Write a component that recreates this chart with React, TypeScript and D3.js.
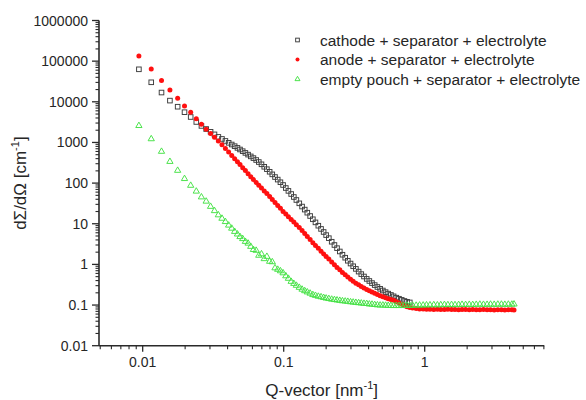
import React from "react";
import * as d3 from "d3";

const qValues = [
  0.0094, 0.0115, 0.0136, 0.0156, 0.0177, 0.0198, 0.0219, 0.024, 0.0261, 0.0282,
  0.0303, 0.0323, 0.0344, 0.0365, 0.0386, 0.0407, 0.0428, 0.0449, 0.047, 0.049,
  0.0512, 0.0535, 0.0559, 0.0584, 0.061, 0.0638, 0.0666, 0.0696, 0.0728, 0.076,
  0.0795, 0.083, 0.0868, 0.0907, 0.0948, 0.099, 0.1035, 0.108, 0.113, 0.118,
  0.123, 0.129, 0.135, 0.141, 0.147, 0.154, 0.161, 0.168, 0.176, 0.184,
  0.192, 0.2, 0.209, 0.219, 0.229, 0.239, 0.25, 0.261, 0.273, 0.285,
  0.298, 0.311, 0.325, 0.34, 0.355, 0.371, 0.388, 0.405, 0.423, 0.442,
  0.462, 0.483, 0.505, 0.528, 0.551, 0.576, 0.602, 0.629, 0.657, 0.687,
  0.718, 0.75, 0.784, 0.82, 0.87, 0.92, 0.975, 1.03, 1.09, 1.16,
  1.23, 1.3, 1.38, 1.46, 1.55, 1.64, 1.74, 1.84, 1.95, 2.07,
  2.19, 2.32, 2.46, 2.61, 2.77, 2.93, 3.11, 3.3, 3.5, 3.7,
  3.92, 4.15, 4.3,
];

const cathodeValues = [
  63000, 30200, 16900, 10700, 7570, 5550, 4230, 3190, 2550, 2140,
  1830, 1580, 1370, 1220, 1090, 980, 890, 810, 735, 671,
  610, 553, 502, 454, 412, 370, 330, 290, 252, 220,
  190, 164, 141, 122, 105, 89.8, 75.7, 64.3, 53.9, 45.5,
  38.4, 31.8, 26.5, 22.3, 18.7, 15.5, 12.9, 10.8, 8.95, 7.46,
  6.27, 5.26, 4.42, 3.61, 3.0, 2.51, 2.08, 1.73, 1.46, 1.23,
  1.05, 0.9, 0.775, 0.665, 0.577, 0.504, 0.44, 0.391, 0.347, 0.31,
  0.278, 0.251, 0.228, 0.208, 0.191, 0.177, 0.164, 0.152, 0.143, 0.134,
  0.126, 0.12, 0.116,
];

const anodeValues = [
  134000, 64100, 33400, 19500, 12200, 7880, 5520, 3840, 2810, 2100,
  1650, 1340, 1090, 881, 710, 579, 478, 398, 334, 285,
  240, 203, 170, 143, 122, 104, 88.7, 75.7, 64.3, 55.5,
  46.6, 39.5, 33.1, 28.3, 23.9, 20.1, 17.3, 14.9, 12.7, 11.0,
  9.48, 8.04, 6.79, 5.75, 4.85, 4.07, 3.4, 2.9, 2.48, 2.1,
  1.81, 1.56, 1.35, 1.15, 0.984, 0.844, 0.736, 0.635, 0.555, 0.489,
  0.432, 0.384, 0.346, 0.314, 0.287, 0.264, 0.242, 0.225, 0.209, 0.194,
  0.182, 0.169, 0.159, 0.151, 0.142, 0.136, 0.131, 0.121, 0.112, 0.104,
  0.0957, 0.0906, 0.0871, 0.0846, 0.0822, 0.0804, 0.08, 0.079, 0.079, 0.078,
  0.079, 0.078, 0.078, 0.079, 0.078, 0.078, 0.077, 0.078, 0.078, 0.077,
  0.078, 0.077, 0.077, 0.078, 0.077, 0.077, 0.076, 0.077, 0.077, 0.076,
  0.077, 0.077, 0.076,
];

const pouchValues = [
  2580, 1220, 599, 338, 204, 128, 87.3, 62.8, 45.3, 35.6,
  26.5, 20.8, 16.4, 13.5, 11.2, 9.16, 7.69, 6.41, 5.53, 4.78,
  4.27, 3.64, 3.3, 2.75, 2.3, 2.2, 1.66, 1.8, 1.37, 1.56,
  1.18, 1.15, 0.815, 0.75, 0.689, 0.614, 0.519, 0.45, 0.379, 0.337,
  0.303, 0.27, 0.243, 0.223, 0.208, 0.194, 0.179, 0.171, 0.163, 0.158,
  0.152, 0.147, 0.143, 0.138, 0.135, 0.132, 0.129, 0.126, 0.124, 0.122,
  0.119, 0.117, 0.115, 0.113, 0.111, 0.109, 0.108, 0.105, 0.104, 0.102,
  0.1, 0.099, 0.099, 0.098, 0.097, 0.097, 0.096, 0.097, 0.096, 0.097,
  0.097, 0.098, 0.097, 0.098, 0.098, 0.099, 0.099, 0.1, 0.1, 0.101,
  0.1, 0.101, 0.102, 0.101, 0.102, 0.101, 0.102, 0.103, 0.102, 0.103,
  0.102, 0.103, 0.104, 0.103, 0.103, 0.104, 0.103, 0.104, 0.104, 0.103,
  0.104, 0.104, 0.105,
];

const seriesNames = [
  "cathode + separator + electrolyte",
  "anode + separator + electrolyte",
  "empty pouch + separator + electrolyte",
];

const yTickLabels = ["0.01", "0.1", "1", "10", "100", "1000", "10000", "100000", "1000000"];
const xTickLabels = ["0.01", "0.1", "1"];

const FONT = "'Liberation Sans', Arial, sans-serif";
const TEXT = "#262626";
const AXIS = "#2a2a2a";

function Marker({ kind, x, y, s = 1 }: { kind: number; x: number; y: number; s?: number }) {
  if (kind === 0) {
    const w = 4.6 * s;
    return (
      <rect x={x - w / 2} y={y - w / 2} width={w} height={w} fill="none" stroke="#3c3c3c" strokeWidth={0.95} />
    );
  }
  if (kind === 1) {
    return <circle cx={x} cy={y} r={2.5 * s} fill="#ff1010" />;
  }
  const path = d3.symbol(d3.symbolTriangle, 17 * s * s)() as string;
  return (
    <path d={path} transform={`translate(${x},${y})`} fill="none" stroke="#45e245" strokeWidth={0.95} />
  );
}

export default function App() {
  const W = 586;
  const H = 400;
  const x = d3.scaleLog().domain([0.0049, 7.05]).range([99, 544.3]);
  const y = d3.scaleLog().domain([0.01, 1000000]).range([345.7, 20.5]);

  const series = [cathodeValues, anodeValues, pouchValues];

  const yMajor = yTickLabels.map((t) => +t);
  const yMinor: number[] = [];
  for (let e = -2; e < 6; e++) {
    for (let m = 2; m <= 9; m++) yMinor.push(m * Math.pow(10, e));
  }
  const xMajor = xTickLabels.map((t) => +t);
  const xMinor: number[] = [];
  for (let e = -3; e <= 0; e++) {
    for (let m = 2; m <= 9; m++) {
      const v = m * Math.pow(10, e);
      if (v >= 0.0049 && v <= 7.05) xMinor.push(v);
    }
  }
  const x0 = x.range()[0];
  const x1 = x.range()[1];
  const yb = y.range()[0];
  const yt = y.range()[1];

  return (
    <div style={{ position: "absolute", left: 0, top: 0, width: W, height: H, background: "#fff" }}>
      <svg width={W} height={H} style={{ display: "block" }} fontFamily={FONT}>
        <rect width={W} height={H} fill="#fff" />
        {/* data */}
        {series.map((vals, k) => (
          <g key={k}>
            {vals.map((v, i) => (
              <Marker key={i} kind={k} x={x(qValues[i])} y={y(v)} />
            ))}
          </g>
        ))}
        {/* axes */}
        <line x1={x0} x2={x0} y1={yt} y2={yb} stroke={AXIS} strokeWidth={1.6} />
        <line x1={x0} x2={x1} y1={yb} y2={yb} stroke={AXIS} strokeWidth={1.6} />
        {yMajor.map((v, i) => (
          <g key={"ym" + i}>
            <line x1={x0 - 7} x2={x0} y1={y(v)} y2={y(v)} stroke={AXIS} strokeWidth={1.3} />
            <text x={x0 - 11} y={y(v)} dy="0.36em" textAnchor="end" fontSize={14} fill={TEXT}>
              {yTickLabels[i]}
            </text>
          </g>
        ))}
        {yMinor.map((v, i) => (
          <line key={"yn" + i} x1={x0 - 3.5} x2={x0} y1={y(v)} y2={y(v)} stroke={AXIS} strokeWidth={1.1} />
        ))}
        {xMajor.map((v, i) => (
          <g key={"xm" + i}>
            <line x1={x(v)} x2={x(v)} y1={yb} y2={yb + 6} stroke={AXIS} strokeWidth={1.3} />
            <text x={x(v)} y={yb + 21.5} textAnchor="middle" fontSize={14} fill={TEXT}>
              {xTickLabels[i]}
            </text>
          </g>
        ))}
        {xMinor.map((v, i) => (
          <line key={"xn" + i} x1={x(v)} x2={x(v)} y1={yb} y2={yb + 3.5} stroke={AXIS} strokeWidth={1.1} />
        ))}
        {/* axis titles */}
        <text x={(x0 + x1) / 2} y={396} textAnchor="middle" fontSize={17} fill={TEXT}>
          Q-vector [nm
          <tspan fontSize={11} dy={-7}>-1</tspan>
          <tspan dy={7}>]</tspan>
        </text>
        <text
          transform={`translate(26,${(yt + yb) / 2}) rotate(-90)`}
          textAnchor="middle"
          fontSize={17}
          fill={TEXT}
        >
          dΣ/dΩ [cm
          <tspan fontSize={11} dy={-7}>-1</tspan>
          <tspan dy={7}>]</tspan>
        </text>
        {/* legend */}
        {seriesNames.map((name, k) => {
          const ly = 40 + k * 19.6;
          return (
            <g key={"lg" + k}>
              <Marker kind={k} x={297.5} y={ly} s={0.8} />
              <text x={320} y={ly} dy="0.36em" fontSize={15.5} fill={TEXT}>
                {name}
              </text>
            </g>
          );
        })}
      </svg>
    </div>
  );
}
